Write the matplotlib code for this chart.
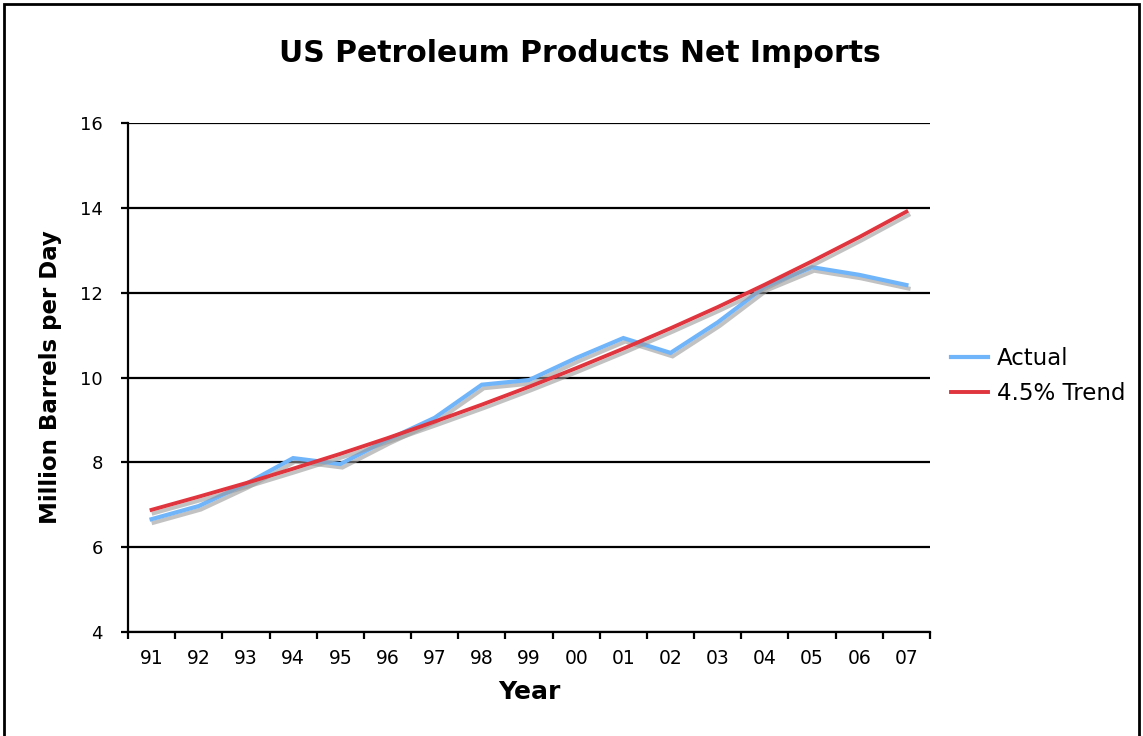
import matplotlib
matplotlib.use("Agg")
import matplotlib.pyplot as plt
import matplotlib.patheffects as pe
from matplotlib.patches import Rectangle
import numpy as np

years = ["91", "92", "93", "94", "95", "96", "97", "98", "99", "00",
         "01", "02", "03", "04", "05", "06", "07"]
actual = [6.66, 6.97, 7.49, 8.10, 7.96, 8.53, 9.05, 9.83, 9.94, 10.46,
          10.93, 10.58, 11.30, 12.14, 12.60, 12.42, 12.18]
trend = [6.88, 7.19, 7.51, 7.85, 8.20, 8.57, 8.96, 9.36, 9.78, 10.22,
         10.68, 11.16, 11.66, 12.19, 12.74, 13.31, 13.91]
yticks = [4, 6, 8, 10, 12, 14, 16]

DPI = 100
fig = plt.figure(figsize=(11.43, 7.36), dpi=DPI)
fig.patch.set_facecolor("white")
fig.patches.append(Rectangle((4 / 1143, -0.05), 1135 / 1143, 1.05 - 4 / 736,
                             transform=fig.transFigure, fill=False,
                             edgecolor="black", linewidth=2.0))

ax = fig.add_axes([128 / 1143, 1 - 632 / 736, (930 - 128) / 1143, (632 - 123) / 736])
x = np.arange(len(years))

shadow = [pe.SimpleLineShadow(offset=(1.5, -2.5), shadow_color="#9a9a9a", alpha=0.6),
          pe.Normal()]
ax.plot(x, actual, color="#70B4FA", lw=3.0, label="Actual",
        path_effects=shadow, solid_joinstyle="miter", zorder=3)
ax.plot(x, trend, color="#E0343E", lw=2.8, label="4.5% Trend",
        path_effects=shadow, zorder=4)

ax.set_xlim(-0.5, len(years) - 0.5)
ax.set_ylim(4, 16)
ax.set_yticks(yticks)
ax.set_yticklabels([str(v) for v in yticks], fontsize=13)
ax.set_xticks(np.arange(-0.5, len(years)), minor=False)
ax.set_xticklabels([])
ax.set_xticks(x, minor=True)
ax.set_xticklabels(years, minor=True, fontsize=13.5)
ax.tick_params(axis="x", which="major", direction="out", length=5, width=1.6, color="black")
ax.tick_params(axis="x", which="minor", length=0, pad=12)
ax.tick_params(axis="y", direction="out", length=5, width=1.6, pad=13)

ax.yaxis.grid(True, color="black", lw=1.6)
ax.set_axisbelow(True)
for s in ["top", "right"]:
    ax.spines[s].set_visible(False)
ax.spines["left"].set_linewidth(1.6)
ax.spines["bottom"].set_linewidth(1.6)

ax.set_xlabel("Year", fontsize=18, fontweight="bold", labelpad=9)
ax.set_ylabel("Million Barrels per Day", fontsize=16.5, fontweight="bold", labelpad=13)
fig.text(580 / 1143, 1 - 53 / 736, "US Petroleum Products Net Imports",
         ha="center", va="center", fontsize=21.5, fontweight="bold")

leg = ax.legend(loc="center left", bbox_to_anchor=(951 / 1143, 1 - 376 / 736),
                bbox_transform=fig.transFigure, frameon=False, fontsize=16.5,
                handlelength=1.6, handletextpad=0.4, labelspacing=0.55,
                borderaxespad=0, borderpad=0)
for h in leg.get_lines():
    h.set_path_effects([])

fig.savefig("out.png", dpi=DPI, facecolor="white")
